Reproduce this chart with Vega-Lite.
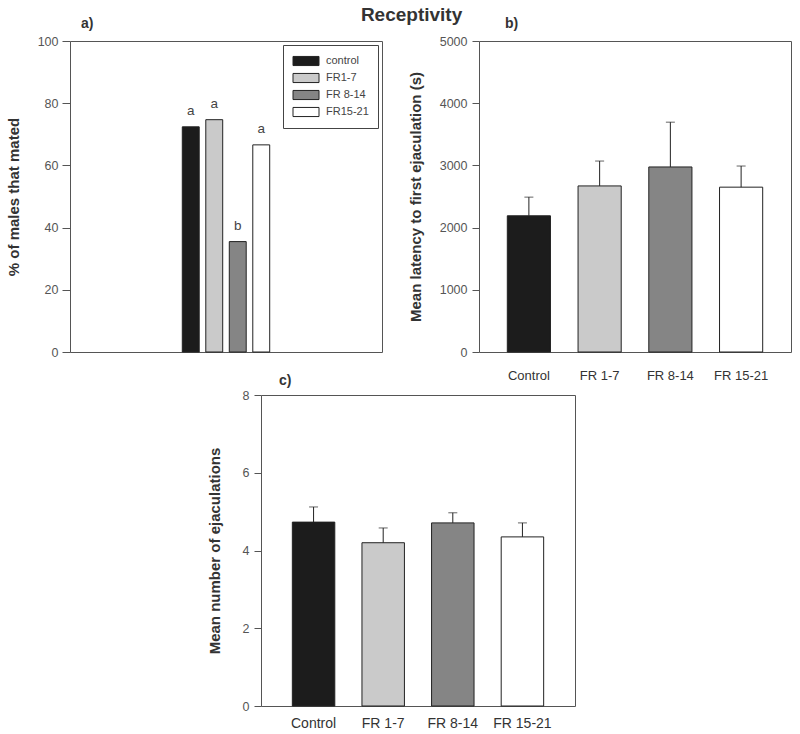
{
  "$schema": "https://vega.github.io/schema/vega-lite/v6.json",
  "background": "white",
  "padding": {"left": 5, "top": 5, "right": 2, "bottom": 5},
  "title": {"text": "Receptivity", "fontSize": 19, "font": "Liberation Sans", "fontWeight": "bold", "color": "#333", "anchor": "middle", "frame": "bounds", "dx": 13, "offset": -8},
  "datasets": {
    "d": [
      {"group": "Control", "leg": "control", "pct": 72.4, "letter": "a", "lat": 2190, "lat_hi": 2490, "ej": 4.73, "ej_hi": 5.12},
      {"group": "FR 1-7", "leg": "FR1-7", "pct": 74.7, "letter": "a", "lat": 2670, "lat_hi": 3070, "ej": 4.2, "ej_hi": 4.58},
      {"group": "FR 8-14", "leg": "FR 8-14", "pct": 35.5, "letter": "b", "lat": 2975, "lat_hi": 3695, "ej": 4.71, "ej_hi": 4.97},
      {"group": "FR 15-21", "leg": "FR15-21", "pct": 66.6, "letter": "a", "lat": 2650, "lat_hi": 2990, "ej": 4.35, "ej_hi": 4.71}
    ]
  },
  "data": {"name": "d"},
  "config": {
    "font": "Liberation Sans",
    "view": {"stroke": "#555", "strokeWidth": 1},
    "axis": {"labelFont": "Liberation Sans", "labelColor": "#555", "labelFontSize": 12.5, "titleFont": "Liberation Sans", "titleFontSize": 15, "titleFontWeight": "bold", "titleColor": "#333", "domainColor": "#555", "tickColor": "#555", "grid": false},
    "title": {"font": "Liberation Sans", "fontSize": 14, "fontWeight": "bold", "color": "#333", "anchor": "start", "frame": "group"}
  },
  "resolve": {"scale": {"color": "independent"}, "legend": {"color": "independent"}},
  "spacing": -10,
  "vconcat": [
    {
      "hconcat": [
        {
          "width": 312,
          "height": 311,
          "title": {"text": "a)", "dx": 11, "offset": 4},
          "encoding": {
            "x": {"field": "group", "type": "nominal", "sort": ["Control", "FR 1-7", "FR 8-14", "FR 15-21"], "scale": {"paddingInner": 0.28, "paddingOuter": 0.14, "range": [109, 203]}, "axis": null}
          },
          "layer": [
            {
              "mark": {"type": "bar", "stroke": "#222", "strokeWidth": 1},
              "encoding": {
                "y": {"field": "pct", "type": "quantitative", "scale": {"domain": [0, 100]}, "axis": {"values": [0, 20, 40, 60, 80, 100], "tickSize": 8, "labelPadding": 4, "titlePadding": 16, "domain": false, "title": "% of males that mated"}},
                "color": {
                  "field": "leg", "type": "nominal",
                  "sort": ["control", "FR1-7", "FR 8-14", "FR15-21"],
                  "scale": {"domain": ["control", "FR1-7", "FR 8-14", "FR15-21"], "range": ["#1c1c1c", "#cacaca", "#858585", "#ffffff"]},
                  "legend": {"title": null, "orient": "top-right", "offset": 4, "strokeColor": "#444", "padding": 9, "fillColor": "white", "symbolType": "M-2,-0.7L2,-0.7L2,0.7L-2,0.7Z", "symbolSize": 169, "symbolOffset": 7, "symbolStrokeColor": "#222", "symbolStrokeWidth": 1, "labelOffset": 13, "labelFontSize": 11, "labelColor": "#444", "rowPadding": 3}
                }
              }
            },
            {
              "mark": {"type": "text", "baseline": "bottom", "dy": -9, "fontSize": 13.5, "color": "#444"},
              "encoding": {
                "y": {"field": "pct", "type": "quantitative"},
                "text": {"field": "letter"}
              }
            }
          ]
        },
        {
          "width": 312,
          "height": 311,
          "title": {"text": "b)", "dx": 26, "offset": 4},
          "encoding": {
            "x": {"field": "group", "type": "nominal", "sort": ["Control", "FR 1-7", "FR 8-14", "FR 15-21"], "scale": {"paddingInner": 0.39, "paddingOuter": 0.4}, "axis": {"title": null, "labelAngle": 0, "ticks": false, "domain": false, "labelPadding": 17, "labelFontSize": 13, "labelColor": "#333"}}
          },
          "layer": [
            {
              "mark": {"type": "bar", "stroke": "#222", "strokeWidth": 1},
              "encoding": {
                "y": {"field": "lat", "type": "quantitative", "scale": {"domain": [0, 5000]}, "axis": {"values": [0, 1000, 2000, 3000, 4000, 5000], "format": "d", "tickSize": 7, "labelPadding": 5, "titlePadding": 16, "domain": false, "title": "Mean latency to first ejaculation (s)"}},
                "color": {"field": "group", "type": "nominal", "scale": {"domain": ["Control", "FR 1-7", "FR 8-14", "FR 15-21"], "range": ["#1c1c1c", "#cacaca", "#858585", "#ffffff"]}, "legend": null}
              }
            },
            {
              "mark": {"type": "rule", "color": "#222", "strokeWidth": 1},
              "encoding": {"y": {"field": "lat", "type": "quantitative"}, "y2": {"field": "lat_hi"}}
            },
            {
              "mark": {"type": "tick", "color": "#222", "thickness": 1, "size": 9},
              "encoding": {"y": {"field": "lat_hi", "type": "quantitative"}}
            }
          ]
        }
      ],
      "spacing": 24,
      "resolve": {"scale": {"color": "independent"}, "legend": {"color": "independent"}}
    },
    {
      "hconcat": [
        {
          "width": 136,
          "height": 10,
          "view": {"stroke": null},
          "mark": {"type": "point", "opacity": 0},
          "encoding": {}
        },
        {
          "width": 314,
          "height": 311,
          "title": {"text": "c)", "dx": 18, "offset": 1},
          "encoding": {
            "x": {"field": "group", "type": "nominal", "sort": ["Control", "FR 1-7", "FR 8-14", "FR 15-21"], "scale": {"paddingInner": 0.39, "paddingOuter": 0.45}, "axis": {"title": null, "labelAngle": 0, "ticks": false, "domain": false, "labelPadding": 10, "labelFontSize": 14, "labelColor": "#333"}}
          },
          "layer": [
            {
              "mark": {"type": "bar", "stroke": "#222", "strokeWidth": 1},
              "encoding": {
                "y": {"field": "ej", "type": "quantitative", "scale": {"domain": [0, 8]}, "axis": {"values": [0, 2, 4, 6, 8], "tickSize": 7, "labelPadding": 5, "titlePadding": 20, "domain": false, "title": "Mean number of ejaculations"}},
                "color": {"field": "group", "type": "nominal", "scale": {"domain": ["Control", "FR 1-7", "FR 8-14", "FR 15-21"], "range": ["#1c1c1c", "#cacaca", "#858585", "#ffffff"]}, "legend": null}
              }
            },
            {
              "mark": {"type": "rule", "color": "#222", "strokeWidth": 1},
              "encoding": {"y": {"field": "ej", "type": "quantitative"}, "y2": {"field": "ej_hi"}}
            },
            {
              "mark": {"type": "tick", "color": "#222", "thickness": 1, "size": 9},
              "encoding": {"y": {"field": "ej_hi", "type": "quantitative"}}
            }
          ]
        }
      ],
      "spacing": 0,
      "resolve": {"scale": {"color": "independent"}, "legend": {"color": "independent"}}
    }
  ]
}
